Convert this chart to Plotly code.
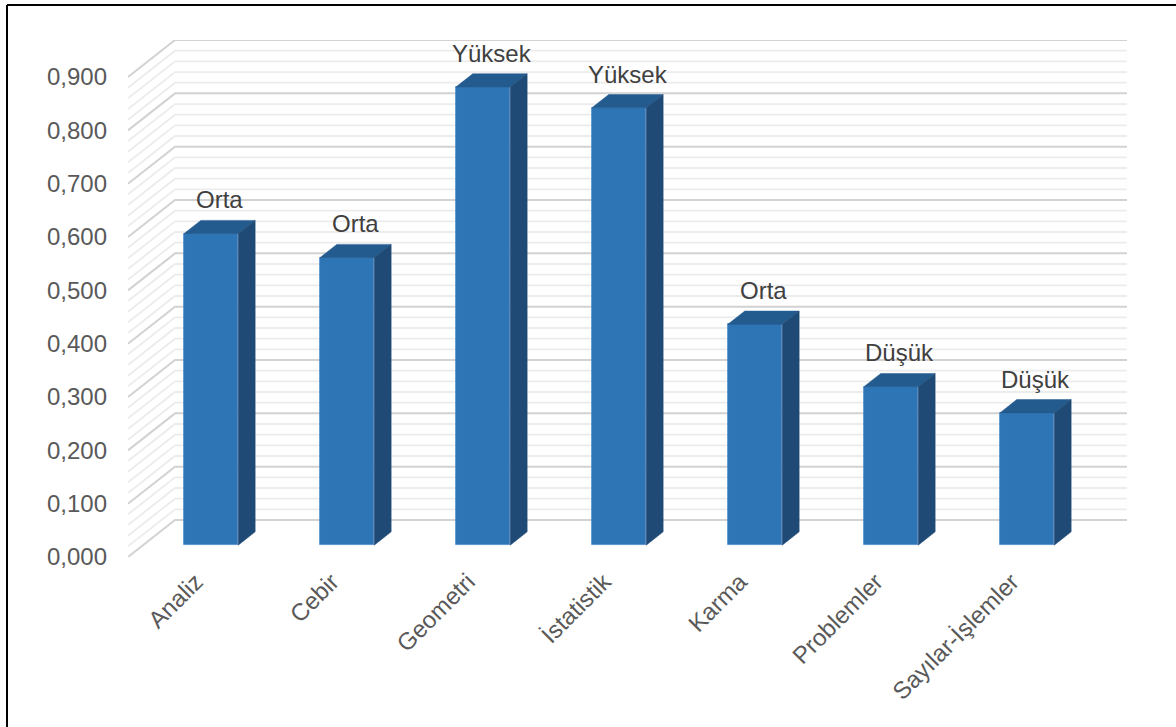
import plotly.graph_objects as go

# ---------------- data ----------------
categories = ["Analiz", "Cebir", "Geometri", "İstatistik", "Karma", "Problemler", "Sayılar-İşlemler"]
values = [0.584, 0.539, 0.859, 0.820, 0.414, 0.297, 0.248]
levels = ["Orta", "Orta", "Yüksek", "Yüksek", "Orta", "Düşük", "Düşük"]
y_ticks = [0.0, 0.1, 0.2, 0.3, 0.4, 0.5, 0.6, 0.7, 0.8, 0.9]

# ---------------- geometry / style ----------------
W, H = 1176, 727
ML, MR, MT, MB = 128, 48, 40, 170
PX_CAT = 136.0          # pixels per category
PX_VAL = 533.3          # pixels per value unit
DX = 47.0 / PX_CAT      # depth offset (category units)
DY = 37.0 / PX_VAL      # depth offset (value units)
D0, D1 = 0.32, 0.68     # bar depth span
HALF = 0.2              # half bar width (category units)
n = len(categories)
x_range = [-0.5, -0.5 + (W - ML - MR) / PX_CAT]
y_range = [0.0, (H - MT - MB) / PX_VAL]

FRONT = "#2E75B6"
TOP = "#245B8F"
SIDE = "#1F4A75"
FONT = "Liberation Sans, Arial, sans-serif"

fig = go.Figure()

# ---- wall gridlines (shapes below traces) ----
shapes = []
steps = int(round(y_ticks[-1] / 0.02))
for k in range(steps + 1):
    v = k * 0.02
    major = (k % 5 == 0)
    x0, y0 = -0.5, v
    x1, y1 = -0.5 + DX, v + DY
    x2, y2 = (n - 0.5) + DX, v + DY
    shapes.append(dict(
        type="path", xref="x", yref="y", layer="below",
        path=f"M {x0},{y0} L {x1},{y1} L {x2},{y2}",
        line=dict(color="#D2D2D2" if major else "#ECECEC", width=2 if major else 1.8),
    ))

# ---- bars: front faces ----
fig.add_trace(go.Bar(
    x=[i + D0 * DX for i in range(n)],
    y=values,
    base=[D0 * DY] * n,
    width=2 * HALF,
    marker=dict(color=FRONT, line=dict(color="#4F8CC9", width=0.8)),
    hoverinfo="skip",
    showlegend=False,
))

# ---- top and side faces ----
tx, ty, sx, sy = [], [], [], []
for i, v in enumerate(values):
    tx += [i - HALF + D0 * DX, i + HALF + D0 * DX, i + HALF + D1 * DX, i - HALF + D1 * DX, i - HALF + D0 * DX, None]
    ty += [v + D0 * DY, v + D0 * DY, v + D1 * DY, v + D1 * DY, v + D0 * DY, None]
    sx += [i + HALF + D0 * DX, i + HALF + D0 * DX, i + HALF + D1 * DX, i + HALF + D1 * DX, i + HALF + D0 * DX, None]
    sy += [D0 * DY, v + D0 * DY, v + D1 * DY, D1 * DY, D0 * DY, None]

fig.add_trace(go.Scatter(x=tx, y=ty, mode="lines", fill="toself", fillcolor=TOP,
                         line=dict(color=TOP, width=0.5), hoverinfo="skip", showlegend=False))
fig.add_trace(go.Scatter(x=sx, y=sy, mode="lines", fill="toself", fillcolor=SIDE,
                         line=dict(color=SIDE, width=0.5), hoverinfo="skip", showlegend=False))

# ---- data labels ----
annotations = []
for i, (v, lab) in enumerate(zip(values, levels)):
    annotations.append(dict(
        x=i + 0.5 * DX, y=v + D1 * DY, xref="x", yref="y",
        text=lab, showarrow=False, yanchor="bottom", xanchor="center", yshift=5,
        font=dict(family=FONT, size=24, color="#404040"),
    ))

# ---- chart border (left and top edges visible) ----
pw, ph = W - ML - MR, H - MT - MB
bx = (7 - ML) / pw
by = (H - MB - 5) / ph
shapes.append(dict(type="line", xref="paper", yref="paper", x0=bx, x1=bx, y0=-1.0, y1=by,
                   line=dict(color="black", width=2)))
shapes.append(dict(type="line", xref="paper", yref="paper", x0=bx, x1=1.5, y0=by, y1=by,
                   line=dict(color="black", width=2)))

fig.update_layout(
    width=W, height=H,
    margin=dict(l=ML, r=MR, t=MT, b=MB, pad=0),
    paper_bgcolor="white", plot_bgcolor="white",
    separators=",.",
    shapes=shapes,
    annotations=annotations,
    font=dict(family=FONT, size=24, color="#595959"),
    xaxis=dict(
        range=x_range, tickmode="array", tickvals=list(range(n)), ticktext=categories,
        tickangle=-45, showgrid=False, zeroline=False, showline=False, ticks="",
        tickfont=dict(size=24, color="#595959"), ticklabelstandoff=5,
    ),
    yaxis=dict(
        range=y_range, tickmode="array", tickvals=y_ticks, tickformat=".3f",
        showgrid=False, zeroline=False, showline=False, ticks="",
        tickfont=dict(size=24, color="#595959"), ticklabelstandoff=20,
    ),
    bargap=0,
)

fig.write_html("out.html")
